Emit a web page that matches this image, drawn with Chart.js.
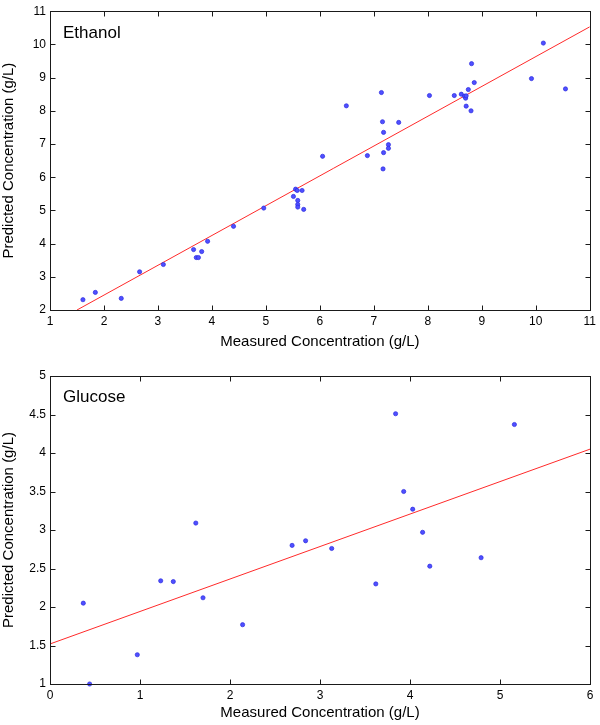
<!DOCTYPE html>
<html>
<head>
<meta charset="utf-8">
<script src="https://cdn.jsdelivr.net/npm/chart.js@4.4.1/dist/chart.umd.min.js"></script>
<style>
  html, body { margin: 0; padding: 0; background: #fff; }
  #c1 { position: absolute; left: 0; top: 0; }
  #c2 { position: absolute; left: 0; top: 360px; }
</style>
</head>
<body>
<canvas id="c1" width="600" height="360"></canvas>
<canvas id="c2" width="600" height="365"></canvas>
<script>
// ---------- Data ----------
const ethanolMeasured = [1.61, 1.84, 2.32, 2.66, 3.10, 3.66, 3.71, 3.75, 3.81, 3.92,
  4.40, 4.96, 5.55, 5.58, 5.67, 5.51, 5.59, 5.59, 5.59, 5.70,
  6.05, 6.49, 6.88, 7.14, 7.16, 7.18, 7.27, 7.27, 7.18, 7.17,
  7.46, 8.03, 8.49, 8.62, 8.68, 8.70, 8.71, 8.75, 8.81, 8.86,
  8.71, 8.80, 9.92, 10.14, 10.55];
const ethanolPredicted = [2.31, 2.53, 2.35, 3.15, 3.37, 3.82, 3.58, 3.58, 3.76, 4.07,
  4.52, 5.07, 5.64, 5.60, 5.60, 5.42, 5.30, 5.18, 5.10, 5.03,
  6.63, 8.15, 6.65, 8.55, 7.67, 7.35, 6.98, 6.87, 6.74, 6.25,
  7.65, 8.46, 8.46, 8.50, 8.44, 8.38, 8.45, 8.64, 9.42, 8.85,
  8.14, 8.00, 8.97, 10.04, 8.66];
const ethanolFitX = [1.5, 11];
const ethanolFitY = [2.0, 10.53];

const glucoseMeasured = [0.37, 0.44, 0.97, 1.23, 1.37, 1.62, 1.70, 2.14, 2.69, 2.84,
  3.13, 3.62, 3.84, 3.93, 4.03, 4.14, 4.22, 4.79, 5.16];
const glucosePredicted = [2.05, 1.00, 1.38, 2.34, 2.33, 3.09, 2.12, 1.77, 2.80, 2.86,
  2.76, 2.30, 4.51, 3.50, 3.27, 2.97, 2.53, 2.64, 4.37];
const glucoseFitX = [0, 6];
const glucoseFitY = [1.52, 4.05];

const ethanolXTicks = [1, 2, 3, 4, 5, 6, 7, 8, 9, 10, 11];
const ethanolYTicks = [2, 3, 4, 5, 6, 7, 8, 9, 10, 11];
const glucoseXTicks = [0, 1, 2, 3, 4, 5, 6];
const glucoseYTicks = [1, 1.5, 2, 2.5, 3, 3.5, 4, 4.5, 5];

const xTitle = 'Measured Concentration (g/L)';
const yTitle = 'Predicted Concentration (g/L)';

// ---------- Helpers ----------
const FONT = 'Liberation Sans, Arial, Helvetica, sans-serif';

function pts(xs, ys) { return xs.map((x, i) => ({ x: x, y: ys[i] })); }

const framePlugin = {
  id: 'frame',
  afterDraw(chart, args, opts) {
    const ctx = chart.ctx;
    const a = chart.chartArea;
    const L = Math.round(a.left) + 0.5, R = Math.round(a.right) + 0.5;
    const T = Math.round(a.top) + 0.5, B = Math.round(a.bottom) + 0.5;
    ctx.save();
    ctx.strokeStyle = '#1a1a1a';
    ctx.lineWidth = 1;
    const tl = 5;
    ctx.beginPath();
    const xs = chart.scales.x, ys = chart.scales.y;
    xs.ticks.forEach(t => {
      const p = Math.round(xs.getPixelForValue(t.value)) + 0.5;
      if (Math.abs(p - L) < 2 || Math.abs(p - R) < 2) return;
      ctx.moveTo(p, B); ctx.lineTo(p, B - tl);
      ctx.moveTo(p, T); ctx.lineTo(p, T + tl);
    });
    ys.ticks.forEach(t => {
      const p = Math.round(ys.getPixelForValue(t.value)) + 0.5;
      if (Math.abs(p - T) < 2 || Math.abs(p - B) < 2) return;
      ctx.moveTo(L, p); ctx.lineTo(L + tl, p);
      ctx.moveTo(R, p); ctx.lineTo(R - tl, p);
    });
    ctx.stroke();
    ctx.strokeRect(L, T, R - L, B - T);
    // panel label
    ctx.fillStyle = '#000';
    ctx.font = '17px ' + FONT;
    ctx.textBaseline = 'alphabetic';
    ctx.textAlign = 'left';
    ctx.fillText(opts.text, a.left + 13, a.top + opts.dy);
    ctx.restore();
  }
};

function makeChart(id, cfg) {
  return new Chart(document.getElementById(id), {
    type: 'scatter',
    data: {
      datasets: [
        {
          data: pts(cfg.mx, cfg.my),
          pointRadius: 2.1,
          pointHoverRadius: 2.1,
          backgroundColor: '#4f4fff',
          borderColor: '#2a2ae0',
          borderWidth: 0.7,
          clip: false
        },
        {
          type: 'line',
          data: pts(cfg.fx, cfg.fy),
          borderColor: '#ff2a2a',
          borderWidth: 1,
          pointRadius: 0,
          fill: false,
          tension: 0
        }
      ]
    },
    options: {
      responsive: false,
      animation: false,
      devicePixelRatio: 1,
      layout: { padding: { top: cfg.padTop, right: 10, left: 0, bottom: 0 } },
      plugins: {
        legend: { display: false },
        tooltip: { enabled: false },
        frame: { text: cfg.label, dy: cfg.labelDy }
      },
      scales: {
        x: {
          type: 'linear',
          min: cfg.xTicks[0], max: cfg.xTicks[cfg.xTicks.length - 1],
          afterBuildTicks(s) { s.ticks = cfg.xTicks.map(v => ({ value: v })); },
          afterFit(s) { s.height = cfg.xHeight; },
          grid: { display: false, drawTicks: false },
          border: { display: false },
          ticks: {
            padding: 4,
            color: '#000',
            font: { family: FONT, size: 12 },
            maxRotation: 0,
            callback: v => String(v)
          },
          title: {
            display: true,
            text: xTitle,
            color: '#000',
            font: { family: FONT, size: 15 },
            padding: { top: 0, bottom: cfg.xTitlePad }
          }
        },
        y: {
          type: 'linear',
          min: cfg.yTicks[0], max: cfg.yTicks[cfg.yTicks.length - 1],
          afterBuildTicks(s) { s.ticks = cfg.yTicks.map(v => ({ value: v })); },
          afterFit(s) { s.width = 50; },
          grid: { display: false, drawTicks: false },
          border: { display: false },
          ticks: {
            padding: 4,
            color: '#000',
            font: { family: FONT, size: 12 },
            callback: v => String(v)
          },
          title: {
            display: true,
            text: yTitle,
            color: '#000',
            font: { family: FONT, size: 15 },
            padding: { top: 0, bottom: 0 }
          }
        }
      }
    },
    plugins: [framePlugin]
  });
}

makeChart('c1', {
  mx: ethanolMeasured, my: ethanolPredicted,
  fx: ethanolFitX, fy: ethanolFitY,
  xTicks: ethanolXTicks, yTicks: ethanolYTicks,
  padTop: 7, xHeight: 50, xTitlePad: 9,
  label: 'Ethanol', labelDy: 27
});

makeChart('c2', {
  mx: glucoseMeasured, my: glucosePredicted,
  fx: glucoseFitX, fy: glucoseFitY,
  xTicks: glucoseXTicks, yTicks: glucoseYTicks,
  padTop: 16, xHeight: 41, xTitlePad: 3,
  label: 'Glucose', labelDy: 26
});
</script>
</body>
</html>
